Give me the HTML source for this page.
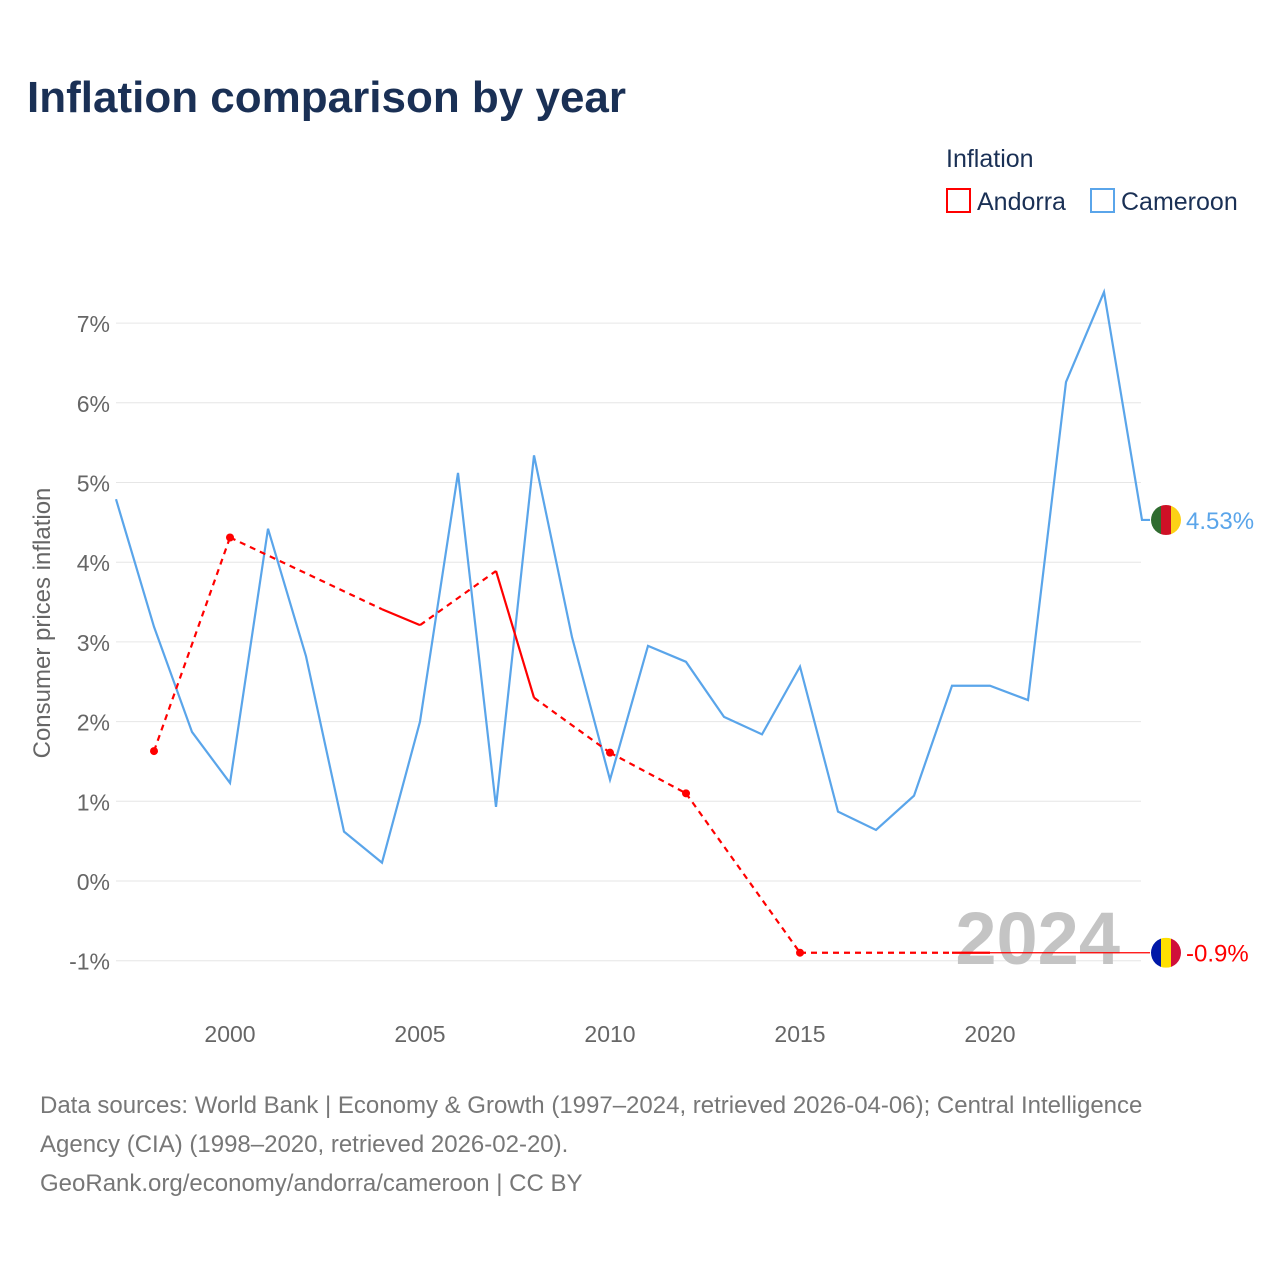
<!DOCTYPE html>
<html><head><meta charset="utf-8"><style>
body{margin:0;background:#fff;font-family:"Liberation Sans",sans-serif}
svg text{font-family:"Liberation Sans",sans-serif}
</style></head><body>
<svg width="1280" height="1280" xmlns="http://www.w3.org/2000/svg">
<text x="27" y="112" font-size="44" font-weight="bold" fill="#1a3055">Inflation comparison by year</text>
<text x="946" y="167" font-size="25" fill="#1a3055">Inflation</text>
<g><rect x="947" y="189" width="23" height="23" fill="none" stroke="#f00" stroke-width="2"/><text x="977" y="210" font-size="25" fill="#1a3055">Andorra</text></g>
<g><rect x="1091" y="189" width="23" height="23" fill="none" stroke="#5aa5ea" stroke-width="2"/><text x="1121" y="210" font-size="25" fill="#1a3055">Cameroon</text></g>
<g id="grid"></g>
<g id="yticks"></g>
<g id="xticks"></g>
<text transform="translate(50,623) rotate(-90)" text-anchor="middle" font-size="24" fill="#666">Consumer prices inflation</text>
<text x="1120" y="964" text-anchor="end" font-size="74" font-weight="bold" fill="#c4c4c4">2024</text>
<g id="series"></g>
<text x="40" y="1113" font-size="24" fill="#777">Data sources: World Bank | Economy &amp; Growth (1997–2024, retrieved 2026-04-06); Central Intelligence</text>
<text x="40" y="1152" font-size="24" fill="#777">Agency (CIA) (1998–2020, retrieved 2026-02-20).</text>
<text x="40" y="1191" font-size="24" fill="#777">GeoRank.org/economy/andorra/cameroon | CC BY</text>
</svg>
<script>
const yTicks=[-1,0,1,2,3,4,5,6,7];
const xTicks=[2000,2005,2010,2015,2020];
const camYears=[1997,1998,1999,2000,2001,2002,2003,2004,2005,2006,2007,2008,2009,2010,2011,2012,2013,2014,2015,2016,2017,2018,2019,2020,2021,2022,2023,2024];
const camVals=[4.79,3.19,1.87,1.23,4.42,2.82,0.62,0.23,2.0,5.12,0.93,5.34,3.06,1.27,2.95,2.75,2.06,1.84,2.69,0.87,0.64,1.07,2.45,2.45,2.27,6.26,7.39,4.53];
const andYears=[1998,2000,2004,2005,2007,2008,2010,2012,2015,2019,2020];
const andVals=[1.63,4.31,3.41,3.21,3.89,2.3,1.61,1.1,-0.9,-0.9,-0.9];
const X=y=>116+(y-1997)*38;
const Y=v=>881-v*79.7;
const NS="http://www.w3.org/2000/svg";
function mk(p,t,a){const e=document.createElementNS(NS,t);for(const k in a)e.setAttribute(k,a[k]);p.appendChild(e);return e;}
const g=document.getElementById('grid'),yt=document.getElementById('yticks'),xt=document.getElementById('xticks'),s=document.getElementById('series');
yTicks.forEach(v=>{const l=mk(g,'line',{x1:116,x2:1141,y1:Y(v),y2:Y(v),stroke:'#e6e6e6','stroke-width':1});


const t=mk(yt,'text',{x:110,y:Y(v)+9,'text-anchor':'end','font-size':23,fill:'#666'});t.textContent=v+'%';

});
xTicks.forEach(v=>{const t=mk(xt,'text',{x:X(v),y:1042,'text-anchor':'middle','font-size':23,fill:'#666'});t.textContent=v;

});
const cp=mk(s,'polyline',{points:camYears.map((y,i)=>X(y)+','+Y(camVals[i])).join(' ')+' '+(X(2024)+8)+','+Y(camVals[camVals.length-1]),fill:'none',stroke:'#5aa5ea','stroke-width':2.2});


for(let i=1;i<andYears.length;i++){const gap=andYears[i]-andYears[i-1]>1;
const l=mk(s,'line',{x1:X(andYears[i-1]),y1:Y(andVals[i-1]),x2:X(andYears[i]),y2:Y(andVals[i]),stroke:'#f00','stroke-width':2.2,'stroke-dasharray':gap?'6,5':'none'});

}
const last=andVals[andVals.length-1];
const ext=mk(s,'line',{x1:X(2020),y1:Y(last),x2:1150,y2:Y(last),stroke:'#f00','stroke-width':1.2});


[0,1,6,7,8].forEach(i=>{const c=mk(s,'circle',{cx:X(andYears[i]),cy:Y(andVals[i]),r:4,fill:'#f00'});

});
const cv=camVals[camVals.length-1],cy=Y(cv);
const fc=mk(s,'g',{});
const c1=mk(fc,'clipPath',{id:'c1'});mk(c1,'circle',{cx:1166,cy:cy,r:15});
mk(fc,'rect',{x:1151,y:cy-15,width:10,height:30,fill:'#2f6b2f','clip-path':'url(#c1)'});
mk(fc,'rect',{x:1161,y:cy-15,width:10,height:30,fill:'#ce1126','clip-path':'url(#c1)'});
mk(fc,'rect',{x:1171,y:cy-15,width:10,height:30,fill:'#fcd116','clip-path':'url(#c1)'});
const t1=mk(s,'text',{x:1186,y:cy+9,'font-size':24,fill:'#5aa5ea'});t1.textContent=cv.toFixed(2)+'%';

const ay=Y(last);
const fa=mk(s,'g',{});
const cl=mk(fa,'clipPath',{id:'c2'});mk(cl,'circle',{cx:1166,cy:ay,r:15});
mk(fa,'rect',{x:1151,y:ay-15,width:10,height:30,fill:'#0018a8','clip-path':'url(#c2)'});
mk(fa,'rect',{x:1161,y:ay-15,width:10,height:30,fill:'#fedf00','clip-path':'url(#c2)'});
mk(fa,'rect',{x:1171,y:ay-15,width:10,height:30,fill:'#d0103a','clip-path':'url(#c2)'});
const t2=mk(s,'text',{x:1186,y:ay+9,'font-size':24,fill:'#f00'});t2.textContent=last+'%';

</script>
</body></html>
